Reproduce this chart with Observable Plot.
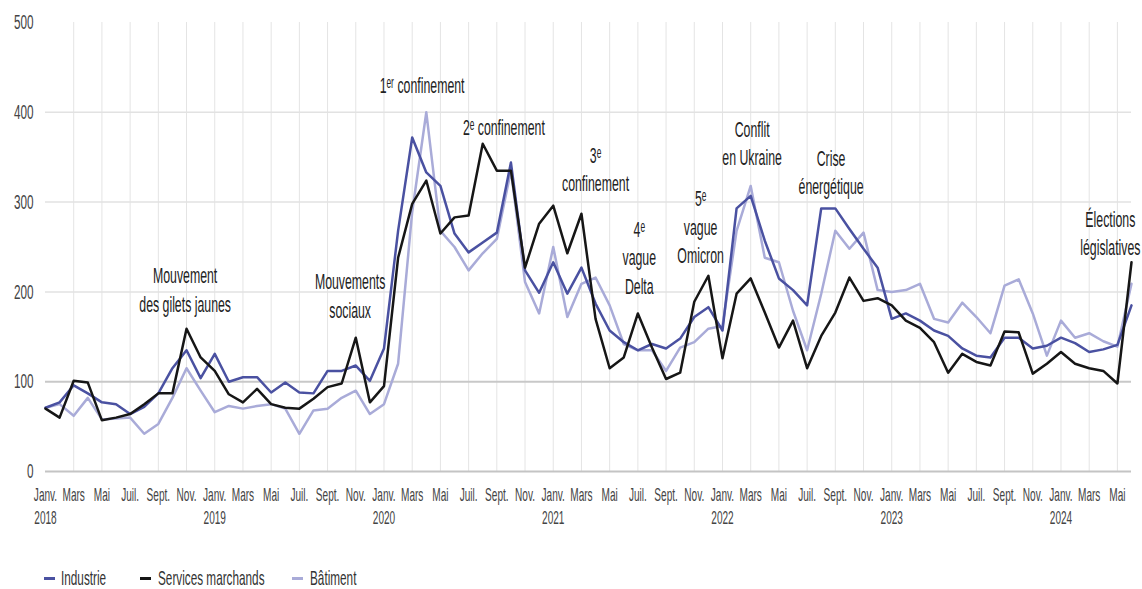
<!DOCTYPE html>
<html lang="fr">
<head>
<meta charset="utf-8">
<script src="https://cdn.jsdelivr.net/npm/d3@7"></script>
<script src="https://cdn.jsdelivr.net/npm/@observablehq/plot@0.6"></script>
<style>
  html, body { margin: 0; padding: 0; background: #fff; }
  #wrap { position: relative; width: 1142px; height: 589px; overflow: hidden; font-family: "Liberation Sans", Arial, sans-serif; }
  #chart svg { display: block; }
  .sw { position: absolute; height: 3px; width: 11px; }
  .lg { position: absolute; font-size: 21px; line-height: 22px; color: #333; white-space: nowrap; transform: scaleX(0.56); transform-origin: left center; }
</style>
</head>
<body>
<div id="wrap">
  <div id="chart"></div>
  <div id="legend"></div>
</div>
<script>
// Monthly index: 0 = janvier 2018 ... 77 = juin 2024
const seriesNames = ["Industrie", "Services marchands", "Bâtiment"];
const seriesColors = ["#4a51a1", "#161616", "#a9abd8"];

const industrie = [71,77,96,87,77,75,64,72,87,115,135,104,
  131,100,105,105,88,99,88,87,112,112,118,101,
  137,268,372,333,318,265,244,255,266,344,224,199,
  233,198,227,187,157,144,135,142,137,148,172,183,
  157,293,307,257,215,202,185,293,293,270,248,227,
  170,176,168,157,151,137,129,127,149,149,137,140,
  149,143,133,136,141,185];

const services = [70,60,101,99,57,60,64,75,87,87,159,127,
  112,86,77,92,75,71,70,81,94,98,149,77,
  95,238,298,324,265,283,285,365,335,335,227,276,
  296,243,287,170,115,127,176,138,103,110,189,218,
  126,198,215,177,138,168,115,151,177,216,190,193,
  185,168,160,144,110,131,122,118,156,155,109,120,
  133,120,115,112,98,233];

const batiment = [71,75,62,82,58,59,60,42,53,82,115,90,
  66,73,70,73,75,70,42,68,70,82,90,64,
  75,120,289,400,268,250,224,243,259,335,211,176,
  250,172,209,216,185,142,135,135,112,138,144,159,
  162,268,318,238,233,179,135,198,268,248,266,202,
  200,202,209,170,166,188,172,154,207,214,176,129,
  168,149,154,145,139,209];

const monthLabels = ["Janv.", "Mars", "Mai", "Juil.", "Sept.", "Nov."];
const monthTicks = [0,2,4,6,8,10,12,14,16,18,20,22,24,26,28,30,32,34,36,38,
  40,42,44,46,48,50,52,54,56,58,60,62,64,66,68,70,72,74,76];
const yearLabels = ["2018", "2019", "2020", "2021", "2022", "2023", "2024"];
const yearTicks = [0, 12, 24, 36, 48, 60, 72];
const yTicks = [0, 100, 200, 300, 400, 500];

// Event annotations: month index and level of the label block centre
const annotations = [
  {i: 9.9,  v: 204, label: "Mouvement\ndes gilets jaunes"},
  {i: 21.6, v: 197, label: "Mouvements\nsociaux"},
  {i: 26.7, v: 432, label: "1ᵉʳ confinement"},
  {i: 32.5, v: 385, label: "2ᵉ confinement"},
  {i: 39.0, v: 338, label: "3ᵉ\nconfinement"},
  {i: 42.1, v: 240, label: "4ᵉ\nvague\nDelta"},
  {i: 46.45, v: 274, label: "5ᵉ\nvague\nOmicron"},
  {i: 50.1, v: 367, label: "Conflit\nen Ukraine"},
  {i: 55.7, v: 335, label: "Crise\nénergétique"},
  {i: 75.5, v: 267, label: "Élections\nlégislatives"}
];

const lastIndex = industrie.length - 1;
const toRows = (vals) => vals.map((v, i) => ({i, v}));
const gridX = monthTicks.filter(d => d > 0);

const chart = Plot.plot({
  width: 1142,
  height: 531,
  marginLeft: 45,
  marginRight: 11,
  marginTop: 22,
  marginBottom: 60,
  x: {type: "linear", domain: [0, lastIndex], axis: null, label: null},
  y: {domain: [0, 500], axis: null, label: null},
  style: {fontFamily: "'Liberation Sans', Arial, sans-serif", background: "#fff", overflow: "visible"},
  marks: [
    Plot.ruleX(gridX, {x: d => d, y1: 0, y2: 500, stroke: "#e4e4e4", strokeWidth: 1}),
    Plot.ruleY([200, 300, 400], {y: d => d, x1: 0, x2: lastIndex, stroke: "#e2e2e2", strokeWidth: 1.5}),
    Plot.ruleY([100], {y: d => d, x1: 0, x2: lastIndex, stroke: "#c8c8c8", strokeWidth: 2}),
    Plot.ruleY([0], {y: d => d, x1: 0, x2: lastIndex, stroke: "#c4c4c4", strokeWidth: 2}),
    Plot.line(toRows(batiment), {x: "i", y: "v", stroke: seriesColors[2], strokeWidth: 2.5}),
    Plot.line(toRows(industrie), {x: "i", y: "v", stroke: seriesColors[0], strokeWidth: 2.5}),
    Plot.line(toRows(services), {x: "i", y: "v", stroke: seriesColors[1], strokeWidth: 2.5}),
    Plot.axisY(yTicks, {tickSize: 0, tickPadding: 12, fontSize: 21, fill: "#444", label: null}),
    Plot.text(monthTicks, {x: d => d, text: (d, k) => monthLabels[k % 6], frameAnchor: "bottom", dy: 24, lineAnchor: "middle", fontSize: 18, fill: "#444"}),
    Plot.text(yearTicks, {x: d => d, text: (d, k) => yearLabels[k], frameAnchor: "bottom", dy: 47, lineAnchor: "middle", fontSize: 18, fill: "#444"}),
    Plot.text(annotations, {x: "i", y: "v", text: "label", lineAnchor: "middle", lineHeight: 1.3, fontSize: 22, fill: "#222"})
  ]
});

// Narrow (condensed) lettering as in the reference
chart.querySelectorAll("text").forEach(t => {
  const tr = t.getAttribute("transform") || "";
  t.setAttribute("transform", tr + " scale(0.56,1)");
});
document.getElementById("chart").appendChild(chart);

// Legend
const legendPos = [{sw: 44, tx: 61}, {sw: 140, tx: 158}, {sw: 292, tx: 310}];
const legend = document.getElementById("legend");
seriesNames.forEach((name, k) => {
  const sw = document.createElement("div");
  sw.className = "sw";
  sw.style.left = legendPos[k].sw + "px";
  sw.style.top = "577px";
  sw.style.background = seriesColors[k];
  legend.appendChild(sw);
  const lb = document.createElement("div");
  lb.className = "lg";
  lb.style.left = legendPos[k].tx + "px";
  lb.style.top = "567px";
  lb.textContent = name;
  legend.appendChild(lb);
});
</script>
</body>
</html>
